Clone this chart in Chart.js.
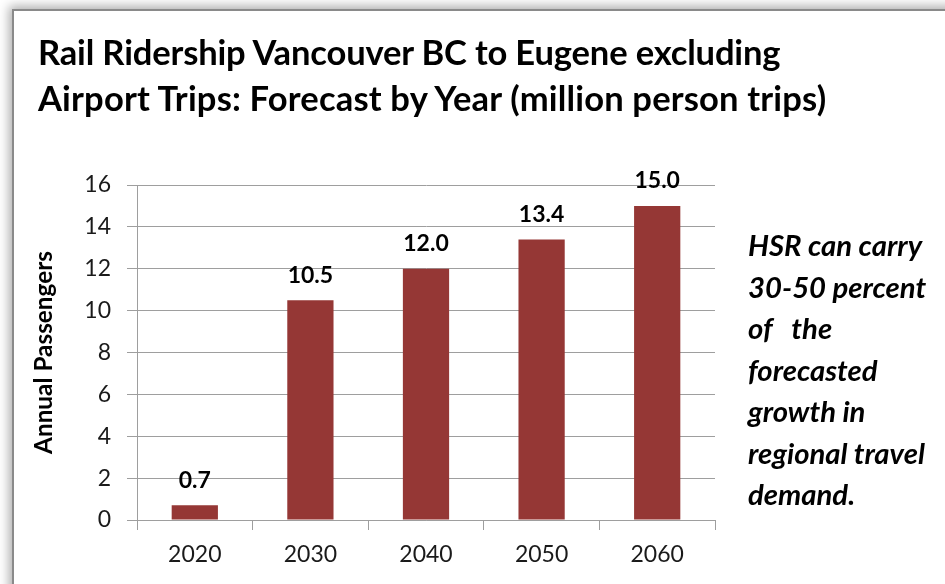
<!DOCTYPE html>
<html>
<head>
<meta charset="utf-8">
<script src="https://cdn.jsdelivr.net/npm/chart.js@4.4.1/dist/chart.umd.min.js"></script>
<style>
  html, body { margin: 0; padding: 0; background: #fff; overflow: hidden; }
  body { width: 945px; height: 584px; position: relative; font-family: Lato, "Liberation Sans", sans-serif; }
  #frame {
    position: absolute; left: 12px; top: 9px; width: 1000px; height: 700px;
    border: 2px solid #8a8a8a; background: #fff;
    box-shadow: 0 0 10px 3px rgba(0,0,0,0.32);
  }
  #chart { position: absolute; left: 0; top: 0; }
  #title {
    position: absolute; left: 38px; top: 29px; color: #000;
    font-weight: 700; white-space: pre; line-height: 46px;
  }
  #title span { display: block; }
  #note {
    position: absolute; left: 748px; top: 224px; color: #000;
    font-weight: 700; font-style: italic; white-space: pre; line-height: 41.5px;
  }
</style>
</head>
<body>
<div id="frame"></div>
<canvas id="chart" width="945" height="584"></canvas>
<div id="title"></div>
<div id="note"></div>
<script>
// Forecast rail ridership (million person trips) by year
const years = ['2020', '2030', '2040', '2050', '2060'];
const ridership = [0.7, 10.5, 12.0, 13.4, 15.0];
const yTickValues = [0, 2, 4, 6, 8, 10, 12, 14, 16];

const titleLines = [
  'Rail Ridership Vancouver BC to Eugene excluding',
  'Airport Trips: Forecast by Year (million person trips)'
];
const noteLines = [
  'HSR can carry',
  '30-50 percent',
  'of   the',
  'forecasted',
  'growth in',
  'regional travel',
  'demand.'
];
const yAxisTitle = 'Annual Passengers';

const FAMILY = 'Lato, "Liberation Sans", sans-serif';
const measureCtx = document.createElement('canvas').getContext('2d');

function textWidth(text, style, size) {
  measureCtx.font = style + ' ' + size + 'px ' + FAMILY;
  return measureCtx.measureText(text).width;
}

// font size that makes a text span a given width
function fitSize(text, style, width) {
  return 100 * width / textWidth(text, style, 100);
}

// title: one size for both lines, letter spacing trims each line to its width
const titleWidths = [744, 792];
const titleSize = 100 * (titleWidths[0] + titleWidths[1]) /
  (textWidth(titleLines[0], '700', 100) + textWidth(titleLines[1], '700', 100));
const titleEl = document.getElementById('title');
titleEl.style.fontSize = titleSize.toFixed(2) + 'px';
titleLines.forEach((line, i) => {
  const span = document.createElement('span');
  span.textContent = line;
  const extra = titleWidths[i] - textWidth(line, '700', titleSize);
  span.style.letterSpacing = (extra / line.length).toFixed(3) + 'px';
  titleEl.appendChild(span);
});

const noteEl = document.getElementById('note');
noteEl.textContent = noteLines.join('\n');
noteEl.style.fontSize = fitSize('regional travel', 'italic 700', 177).toFixed(2) + 'px';

const axisTitleSize = fitSize(yAxisTitle, '700', 203);

// value labels above each bar
const valueLabels = {
  id: 'valueLabels',
  afterDatasetsDraw(chart) {
    const ctx = chart.ctx;
    const meta = chart.getDatasetMeta(0);
    ctx.save();
    ctx.font = 'bold 23px ' + FAMILY;
    ctx.fillStyle = '#000';
    ctx.textAlign = 'center';
    ctx.textBaseline = 'middle';
    meta.data.forEach((bar, i) => {
      ctx.fillText(ridership[i].toFixed(1), bar.x, bar.y - 25);
    });
    ctx.restore();
  }
};

const gridColor = '#9e9e9e';

new Chart(document.getElementById('chart'), {
  type: 'bar',
  data: {
    labels: years,
    datasets: [{
      data: ridership,
      backgroundColor: '#953735',
      borderWidth: 0,
      categoryPercentage: 1.0,
      barPercentage: 0.4
    }]
  },
  options: {
    responsive: false,
    devicePixelRatio: 1,
    animation: false,
    events: [],
    layout: { padding: { left: 0, right: 230, top: 185, bottom: 0 } },
    plugins: { legend: { display: false }, tooltip: { enabled: false }, title: { display: false } },
    scales: {
      x: {
        grid: {
          offset: true,
          drawOnChartArea: false,
          drawTicks: true,
          tickLength: 10,
          color: gridColor,
          lineWidth: 1
        },
        border: { display: true, color: gridColor, width: 1 },
        ticks: {
          color: '#1a1a1a',
          font: { family: FAMILY, size: 23 },
          padding: 11,
          maxRotation: 0
        },
        afterFit(scale) { scale.height = 64; }
      },
      y: {
        min: 0,
        max: 16,
        afterBuildTicks(scale) { scale.ticks = yTickValues.map(v => ({ value: v })); },
        grid: {
          color: gridColor,
          lineWidth: 1,
          tickLength: 10,
          drawTicks: true
        },
        border: { display: true, color: gridColor, width: 1 },
        ticks: {
          color: '#1a1a1a',
          font: { family: FAMILY, size: 23 },
          padding: 16
        },
        title: {
          display: true,
          text: yAxisTitle,
          color: '#000',
          font: { family: FAMILY, size: axisTitleSize, weight: 'bold' },
          padding: { top: 30, bottom: 0 }
        },
        afterFit(scale) { scale.width = 137; }
      }
    }
  },
  plugins: [valueLabels]
});
</script>
</body>
</html>
